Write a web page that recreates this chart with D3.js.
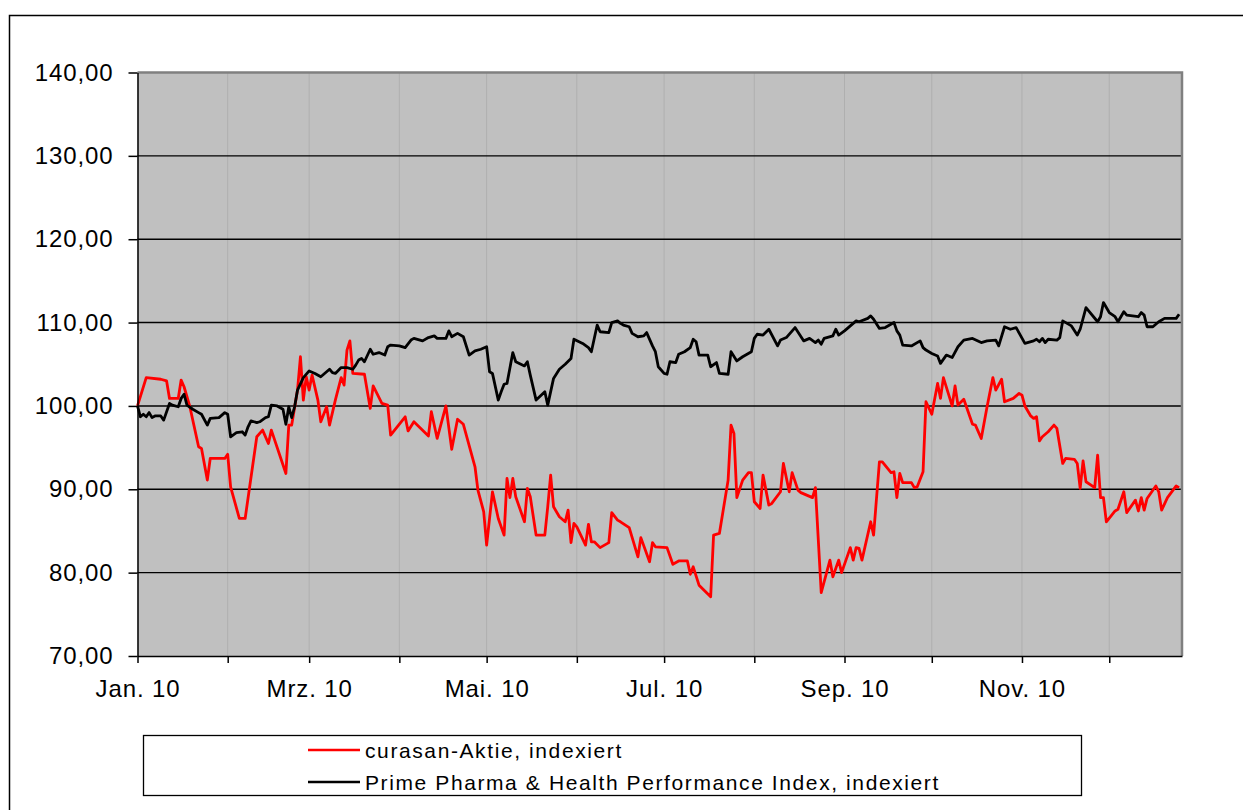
<!DOCTYPE html>
<html lang="de">
<head>
<meta charset="UTF-8">
<title>curasan-Aktie vs. Prime Pharma & Health Performance Index</title>
<script src="https://d3js.org/d3.v7.min.js"></script>
<style>
    body { margin: 0; background: #fff; }
    svg { display: block; font-family: "Liberation Sans", Arial, sans-serif; }
    .axis text { font-size: 24px; fill: #000; letter-spacing: 0.9px; }
    .axis path, .axis line { stroke: #000; stroke-width: 1.5px; }
    .legend text { font-size: 21px; letter-spacing: 1.6px; }
</style>
</head>
<body>
<svg id="chart" width="1243" height="810"></svg>
<script>
// day offsets counted from 1 Jan 2010, values indexed (start = 100)
const startDate = new Date(2010, 0, 1);
const endDate = new Date(2010, 11, 26);

const curasan = [
    [0,100],[3,103.4],[8,103.2],[10,103.0],[11,100.9],[14,100.9],[15,103.1],[16,102.3],[18,99.9],[21,95.1],
    [22,94.9],[24,91.1],[25,93.7],[30,93.7],[31,94.2],[32,90.3],[35,86.5],[37,86.5],[41,96.3],[43,97.1],
    [45,95.5],[46,97.1],[51,91.9],[52,97.7],[53,97.7],[55,101.9],[56,105.9],[57,100.7],[58,103.5],[59,101.9],
    [60,103.7],[62,100.7],[63,98.1],[65,99.9],[66,97.7],[68,100.7],[70,103.4],[71,102.5],[72,106.7],[73,107.8],
    [74,103.9],[78,103.8],[80,99.7],[81,102.4],[84,100.3],[86,100.1],[87,96.5],[92,98.7],[93,97],[95,98.1],
    [100,96.4],[101,99.3],[103,96.1],[106,100],[108,94.8],[110,98.4],[112,97.8],[116,92.7],[117,89.9],[119,87.3],
    [120,83.3],[122,89.7],[124,86.5],[126,84.5],[127,91.3],[128,89],[129,91.3],[130,89.1],[133,86.1],[134,90.1],
    [135,89.1],[137,84.5],[140,84.5],[141,87.9],[142,91.7],[143,87.9],[145,86.7],[147,86.1],[148,87.5],[149,83.6],
    [150,85.9],[151,85.5],[154,83.3],[155,85.8],[156,83.7],[157,83.7],[159,83],[162,83.6],[163,87.2],[165,86.3],
    [166,86.1],[169,85.4],[172,81.9],[173,84.2],[176,81.3],[177,83.6],[178,83.1],[182,83],[184,81],[186,81.4],
    [189,81.4],[190,79.8],[191,80.7],[193,78.5],[197,77.1],[198,84.5],[200,84.7],[203,91.1],[204,97.7],[205,96.7],
    [206,89],[208,91.1],[210,92],[211,92],[212,88.5],[214,87.7],[215,91.7],[217,88.1],[218,88.3],[221,89.7],
    [222,93.1],[224,89.7],[225,92],[227,89.9],[228,89.6],[232,89],[233,90.2],[235,77.6],[238,81.5],[239,79.5],
    [241,81.5],[242,80],[245,83],[246,81.5],[247,83],[248,82.9],[249,81.5],[252,86.1],[253,84.5],[255,93.3],
    [256,93.3],[259,92],[260,92.1],[261,89],[262,91.9],[263,90.8],[266,90.8],[267,90.2],[268,90.3],[270,92.1],
    [271,100.5],[273,99],[275,102.7],[276,100.9],[277,103.4],[280,100],[281,102.4],[282,100.1],[284,100.8],[287,97.8],
    [288,97.7],[290,96.1],[292,99.9],[294,103.4],[295,101.9],[297,103.2],[298,100.5],[301,100.9],[303,101.5],[304,101.3],
    [305,100],[307,98.8],[308,98.5],[309,98.7],[310,95.8],[311,96.3],[313,96.9],[315,97.7],[316,97.3],[318,93.1],
    [319,93.7],[322,93.6],[323,93.1],[324,90.1],[325,93.4],[326,90.9],[329,90.2],[330,94.1],[331,89],[332,89],
    [333,86.1],[336,87.4],[337,87.6],[339,89.7],[340,87.2],[343,88.7],[344,87.4],[345,89],[346,87.5],[347,88.9],
    [350,90.4],[351,89.7],[352,87.5],[354,89],[357,90.4],[358,90.2]
];

const primePharma = [
    [0,100],[1,98.7],[2,99],[3,98.7],[4,99.2],[5,98.6],[6,98.8],[8,98.8],[9,98.3],[11,100.3],
    [12,100.1],[14,99.9],[15,100.9],[16,101.4],[17,100.1],[19,99.6],[21,99.2],[22,99],[24,97.7],[25,98.5],
    [28,98.6],[30,99.2],[31,99],[32,96.3],[34,96.8],[36,96.9],[37,96.5],[38,97.5],[39,98.2],[41,98],
    [42,98.1],[44,98.6],[45,98.7],[46,100.1],[48,100],[50,99.6],[51,97.8],[52,99.9],[53,98.6],[54,99.9],
    [55,101.9],[57,103.4],[59,104.2],[61,103.9],[63,103.5],[66,104.4],[67,104],[68,103.9],[70,104.6],[72,104.6],
    [74,104.4],[75,104.9],[76,105.5],[77,105.7],[78,105.3],[80,106.8],[81,106.2],[83,106.4],[85,106.1],[86,107.1],
    [87,107.3],[90,107.2],[92,107],[94,107.9],[95,108.1],[98,107.8],[100,108.2],[102,108.4],[103,108.1],[106,108.1],
    [107,109],[108,108.3],[110,108.7],[112,108.3],[114,106.1],[116,106.6],[118,106.8],[120,107.1],[121,104.1],[122,103.9],
    [124,100.7],[125,101.7],[126,102.6],[127,102.7],[129,106.4],[130,105.3],[133,104.8],[134,105.3],[135,103.7],[137,100.7],
    [140,101.7],[141,100.1],[143,103.3],[145,104.4],[147,105],[149,105.7],[150,108],[153,107.5],[155,107],[156,106.5],
    [158,109.7],[159,108.9],[162,108.8],[163,110],[165,110.2],[166,109.9],[167,109.7],[169,109.5],[170,108.7],[172,108.3],
    [174,108.4],[175,108.8],[177,107.2],[178,106.5],[179,104.7],[181,103.9],[182,103.8],[183,105.3],[185,105.2],[186,106.2],
    [188,106.5],[190,107],[191,108],[192,107.7],[193,106.1],[196,106.1],[197,104.7],[199,105.2],[200,103.9],[203,103.8],
    [204,106.5],[206,105.4],[208,105.9],[211,106.5],[212,108.1],[213,108.6],[215,108.5],[217,109.2],[220,107.2],[221,107.9],
    [223,108.2],[226,109.4],[229,107.8],[231,108.1],[233,107.6],[234,107.9],[235,107.4],[236,108.1],[239,108.4],[240,109.2],
    [241,108.5],[243,109],[245,109.6],[247,110.2],[248,110.1],[251,110.5],[252,110.8],[253,110.4],[255,109.3],[257,109.4],
    [260,110],[261,109],[262,108.5],[263,107.3],[266,107.2],[269,107.8],[270,107],[271,106.7],[273,106.3],[275,106],
    [276,105.1],[278,106.1],[280,105.8],[282,107.1],[284,107.9],[287,108.1],[290,107.6],[292,107.8],[295,107.9],[296,107.2],
    [298,109.5],[300,109.2],[302,109.4],[305,107.5],[308,107.8],[309,108],[310,107.7],[311,108.1],[312,107.6],[313,108],
    [316,107.9],[317,108.2],[318,110.2],[321,109.6],[323,108.5],[324,109.2],[326,111.8],[330,110.1],[331,110.7],[332,112.4],
    [334,111.2],[336,110.7],[337,110.1],[339,111.3],[340,110.9],[344,110.7],[345,111.2],[346,110.9],[347,109.5],[349,109.5],
    [351,110.1],[353,110.5],[357,110.5],[358,111]
];

const monthLabels = ["Jan. 10", "Mrz. 10", "Mai. 10", "Jul. 10", "Sep. 10", "Nov. 10"];
const yTicks = [70, 80, 90, 100, 110, 120, 130, 140];
const seriesNames = ["curasan-Aktie, indexiert", "Prime Pharma & Health Performance Index, indexiert"];
const seriesColors = ["#ff0000", "#000000"];

const svg = d3.select("#chart");
const plot = {left: 137.5, right: 1182, top: 72.5, bottom: 656};

const de = d3.formatLocale({decimal: ",", thousands: ".", grouping: [3], currency: ["", " €"]});
const fmt = de.format(".2f");

const x = d3.scaleTime().domain([startDate, endDate]).range([plot.left, plot.right]);
const y = d3.scaleLinear().domain([70, 140]).range([plot.bottom, plot.top]);

// outer chart frame (runs off the picture on the right and bottom)
svg.append("rect")
    .attr("x", 9.5).attr("y", 15.5)
    .attr("width", 1300).attr("height", 900)
    .attr("fill", "none").attr("stroke", "#000").attr("stroke-width", 1.5);

// plot area
svg.append("rect")
    .attr("x", plot.left).attr("y", plot.top)
    .attr("width", plot.right - plot.left).attr("height", plot.bottom - plot.top)
    .attr("fill", "#c0c0c0");

const months = d3.timeMonth.range(startDate, endDate);

// vertical month gridlines
svg.append("g").selectAll("line")
    .data(months.slice(1))
    .join("line")
    .attr("x1", d => x(d)).attr("x2", d => x(d))
    .attr("y1", plot.top).attr("y2", plot.bottom)
    .attr("stroke", "#afafaf").attr("stroke-width", 1);

// horizontal gridlines
svg.append("g").selectAll("line")
    .data(yTicks.slice(1, -1))
    .join("line")
    .attr("x1", plot.left).attr("x2", plot.right)
    .attr("y1", d => y(d)).attr("y2", d => y(d))
    .attr("stroke", "#000").attr("stroke-width", 1.4);

// plot border (top / right)
svg.append("path")
    .attr("d", `M${plot.left},${plot.top}H${plot.right}V${plot.bottom}`)
    .attr("fill", "none").attr("stroke", "#808080").attr("stroke-width", 2.5);

// lines
const line = d3.line()
    .x(d => x(d3.timeDay.offset(startDate, d[0])))
    .y(d => y(d[1]));

[curasan, primePharma].forEach((s, i) => {
    svg.append("path")
        .datum(s)
        .attr("d", line)
        .attr("fill", "none")
        .attr("stroke", seriesColors[i])
        .attr("stroke-width", 2.8)
        .attr("stroke-linejoin", "round");
});

// axes
svg.append("g")
    .attr("class", "axis")
    .attr("transform", `translate(${plot.left},0)`)
    .call(d3.axisLeft(y).tickValues(yTicks).tickFormat(fmt).tickSize(9).tickPadding(15).tickSizeOuter(0));

svg.append("g")
    .attr("class", "axis")
    .attr("transform", `translate(0,${plot.bottom})`)
    .call(d3.axisBottom(x)
        .tickValues(months)
        .tickFormat(d => d.getMonth() % 2 === 0 ? monthLabels[d.getMonth() / 2] : "")
        .tickSize(7).tickPadding(17).tickSizeOuter(0));

// legend
const legend = svg.append("g").attr("class", "legend");
legend.append("rect")
    .attr("x", 143.5).attr("y", 735.5)
    .attr("width", 938).attr("height", 60)
    .attr("fill", "#fff").attr("stroke", "#000").attr("stroke-width", 1.3);

seriesNames.forEach((name, i) => {
    const ly = 750 + i * 32;
    legend.append("line")
        .attr("x1", 308).attr("x2", 360)
        .attr("y1", ly).attr("y2", ly)
        .attr("stroke", seriesColors[i]).attr("stroke-width", 2.6);
    legend.append("text")
        .attr("x", 365).attr("y", ly + 8)
        .text(name);
});
</script>
</body>
</html>
